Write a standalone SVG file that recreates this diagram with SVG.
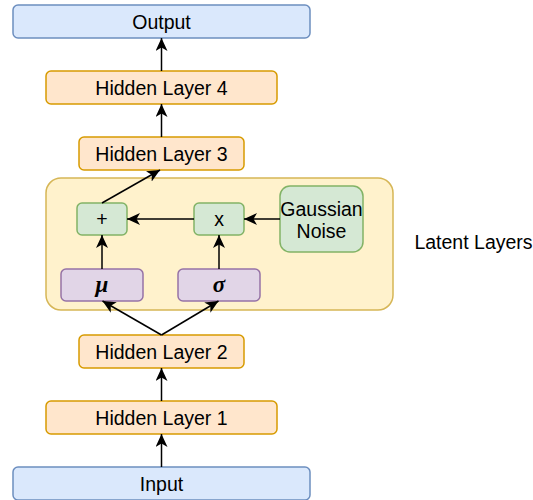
<svg xmlns="http://www.w3.org/2000/svg" width="533" height="500" viewBox="0 0 533 500">
<style>
text{font-family:"Liberation Sans",Arial,sans-serif;font-size:19.5px;fill:#000;text-anchor:middle}
.blue{fill:#dae8fc;stroke:#6c8ebf;stroke-width:1.5}
.orange{fill:#ffe6cc;stroke:#d79b00;stroke-width:1.5}
.yellow{fill:#fff2cc;stroke:#d6b656;stroke-width:1.5}
.green{fill:#d5e8d4;stroke:#82b366;stroke-width:1.5}
.purple{fill:#e1d5e7;stroke:#9673a6;stroke-width:1.5}
.math{font-family:"Liberation Serif","Times New Roman",serif;font-style:italic;font-weight:bold;font-size:23px}
.edge{fill:none;stroke:#000;stroke-width:1.5;marker-end:url(#arrow)}
</style>
<defs>
<marker id="arrow" markerUnits="userSpaceOnUse" markerWidth="14" markerHeight="12" viewBox="0 0 14 12" refX="13" refY="6" orient="auto">
<path d="M0,0 L13,6 L0,12 L3.5,6 Z" fill="#000"/>
</marker>
</defs>
<g id="latent">
<rect class="yellow" x="46" y="178" width="347" height="132" rx="15"/>
</g>
<g id="latent-label">
<text x="473.5" y="249">Latent Layers</text>
</g>
<g id="output">
<rect class="blue" x="13" y="5" width="297" height="33" rx="5"/>
<text x="161.5" y="28.5">Output</text>
</g>
<g id="hidden4">
<rect class="orange" x="46" y="71" width="231" height="33" rx="5"/>
<text x="161.5" y="95">Hidden Layer 4</text>
</g>
<g id="hidden3">
<rect class="orange" x="79" y="137" width="165" height="33" rx="5"/>
<text x="161.5" y="161">Hidden Layer 3</text>
</g>
<g id="plus">
<rect class="green" x="77" y="203" width="50" height="32" rx="5"/>
<text x="102" y="226">+</text>
</g>
<g id="times">
<rect class="green" x="194" y="203" width="50" height="32" rx="5"/>
<text x="219" y="226">x</text>
</g>
<g id="noise">
<rect class="green" x="280" y="186" width="83" height="66" rx="10"/>
<text x="321.5" y="215.5">Gaussian</text>
<text x="321.5" y="238">Noise</text>
</g>
<g id="mu">
<rect class="purple" x="61" y="269" width="82" height="32" rx="5"/>
<text class="math" x="102" y="292">μ</text>
</g>
<g id="sigma">
<rect class="purple" x="178" y="269" width="82" height="32" rx="5"/>
<text class="math" x="219" y="292">σ</text>
</g>
<g id="hidden2">
<rect class="orange" x="79" y="335" width="165" height="33" rx="5"/>
<text x="161.5" y="359">Hidden Layer 2</text>
</g>
<g id="hidden1">
<rect class="orange" x="46" y="401" width="231" height="33" rx="5"/>
<text x="161.5" y="425">Hidden Layer 1</text>
</g>
<g id="input">
<rect class="blue" x="13" y="467" width="297" height="33" rx="5"/>
<text x="161.5" y="491">Input</text>
</g>
<g id="connectors">
<path class="edge" d="M161.5,467 L161.5,434"/>
<path class="edge" d="M161.5,401 L161.5,368"/>
<path class="edge" d="M161.5,335 L102.5,301"/>
<path class="edge" d="M161.5,335 L218.5,301"/>
<path class="edge" d="M102,269 L102,235"/>
<path class="edge" d="M219,269 L219,235"/>
<path class="edge" d="M280,219 L244,219"/>
<path class="edge" d="M194,219 L127,219"/>
<path class="edge" d="M102,203 L160,170"/>
<path class="edge" d="M161.5,137 L161.5,104"/>
<path class="edge" d="M161.5,71 L161.5,38"/>
</g>
</svg>
